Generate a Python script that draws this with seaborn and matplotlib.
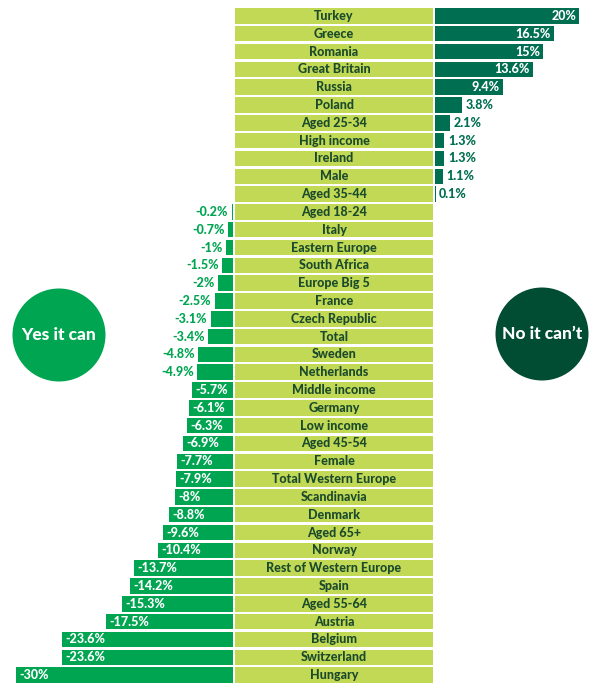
import matplotlib
matplotlib.use("Agg")
import matplotlib.pyplot as plt
from matplotlib.patches import Circle
import pandas as pd
import seaborn as sns

# dados (de cima para baixo)
categorias = ["Turkey", "Greece", "Romania", "Great Britain", "Russia", "Poland",
              "Aged 25-34", "High income", "Ireland", "Male", "Aged 35-44",
              "Aged 18-24", "Italy", "Eastern Europe", "South Africa", "Europe Big 5",
              "France", "Czech Republic", "Total", "Sweden", "Netherlands",
              "Middle income", "Germany", "Low income", "Aged 45-54", "Female",
              "Total Western Europe", "Scandinavia", "Denmark", "Aged 65+", "Norway",
              "Rest of Western Europe", "Spain", "Aged 55-64", "Austria", "Belgium",
              "Switzerland", "Hungary"]
valores = [20, 16.5, 15, 13.6, 9.4, 3.8, 2.1, 1.3, 1.3, 1.1, 0.1,
           -0.2, -0.7, -1, -1.5, -2, -2.5, -3.1, -3.4, -4.8, -4.9,
           -5.7, -6.1, -6.3, -6.9, -7.7, -7.9, -8, -8.8, -9.6, -10.4,
           -13.7, -14.2, -15.3, -17.5, -23.6, -23.6, -30]
legenda_sim = "Yes it can"
legenda_nao = "No it can\u2019t"

df = pd.DataFrame({"cat": categorias, "val": valores})
df["pos"] = df["val"].clip(lower=0)
df["neg"] = df["val"].clip(upper=0)
df["fundo"] = 1

verde_escuro = "#006e50"
verde = "#00a551"
verde_claro = "#c1d955"
texto_escuro = "#1b4a2c"
circulo_escuro = "#014d33"

plt.rcParams["font.family"] = ["Lato", "DejaVu Sans"]
peso = "black"
tam = 9

W, H = 600, 691
fig = plt.figure(figsize=(W / 100, H / 100), dpi=100)
fig.patch.set_facecolor("white")

# fundo com os círculos (coordenadas em pixels)
bg = fig.add_axes([0, 0, 1, 1])
bg.set_xlim(0, W)
bg.set_ylim(H, 0)
bg.axis("off")
bg.add_patch(Circle((59, 335), 46.5, color=verde, lw=0))
bg.add_patch(Circle((542, 334), 46.5, color=circulo_escuro, lw=0))
bg.text(59, 335, legenda_sim, color="white", fontsize=12.5, fontweight=peso,
        ha="center", va="center")
bg.text(542, 334, legenda_nao, color="white", fontsize=12.5, fontweight=peso,
        ha="center", va="center")

y0 = 7 / H
hh = 677 / H
ax_neg = fig.add_axes([0, y0, 233 / W, hh])
ax_mid = fig.add_axes([235 / W, y0, 198 / W, hh])
ax_pos = fig.add_axes([435 / W, y0, 165 / W, hh])

larg = 0.87
sns.barplot(data=df, x="neg", y="cat", orient="h", color=verde, saturation=1,
            width=larg, linewidth=0, ax=ax_neg)
sns.barplot(data=df, x="fundo", y="cat", orient="h", color=verde_claro, saturation=1,
            width=larg, linewidth=0, ax=ax_mid)
sns.barplot(data=df, x="pos", y="cat", orient="h", color=verde_escuro, saturation=1,
            width=larg, linewidth=0, ax=ax_pos)

ax_neg.set_xlim(-233 / 7.25, 0)
ax_mid.set_xlim(0, 1)
ax_pos.set_xlim(0, 165 / 7.2)

for ax in (ax_neg, ax_mid, ax_pos):
    ax.set_ylim(len(categorias) - 0.5, -0.5)
    ax.axis("off")
    ax.patch.set_alpha(0)

def fmt(v):
    return f"{v:g}%"

for i, (c, v) in enumerate(zip(categorias, valores)):
    ax_mid.text(0.5, i, c, ha="center", va="center", fontsize=tam,
                fontweight=peso, color=texto_escuro)
    if v > 0:
        if v >= 9:
            ax_pos.annotate(fmt(v), (v, i), xytext=(-2, 0), textcoords="offset points",
                            ha="right", va="center", fontsize=tam, fontweight=peso, color="white")
        else:
            ax_pos.annotate(fmt(v), (v, i), xytext=(2.5, 0), textcoords="offset points",
                            ha="left", va="center", fontsize=tam, fontweight=peso, color=verde_escuro)
    else:
        if v <= -5.5:
            ax_neg.annotate(fmt(v), (v, i), xytext=(2.5, 0), textcoords="offset points",
                            ha="left", va="center", fontsize=tam, fontweight=peso, color="white")
        else:
            ax_neg.annotate(fmt(v), (v, i), xytext=(-2.5, 0), textcoords="offset points",
                            ha="right", va="center", fontsize=tam, fontweight=peso, color=verde)

fig.savefig("out.png", dpi=100, facecolor="white")
